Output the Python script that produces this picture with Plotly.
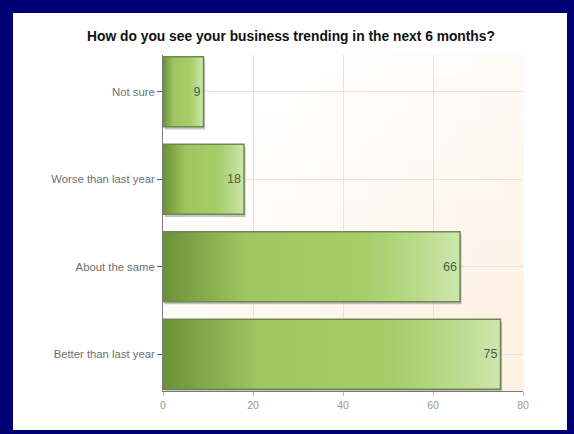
import plotly.graph_objects as go

categories = ["Not sure", "Worse than last year", "About the same", "Better than last year"]
values = [9, 18, 66, 75]
x_ticks = [0, 20, 40, 60, 80]

FONT = "Liberation Sans, Arial, sans-serif"

def lerp(c1, c2, t):
    return tuple(int(round(a + (b - a) * t)) for a, b in zip(c1, c2))

def hexrgb(h):
    h = h.lstrip('#')
    return tuple(int(h[i:i + 2], 16) for i in (0, 2, 4))

stops = [(0.0, hexrgb('#6b9139')), (0.28, hexrgb('#9ec661')), (0.68, hexrgb('#a5ce6a')),
         (0.85, hexrgb('#b8da8a')), (1.0, hexrgb('#cde6ad'))]

def grad(t):
    for (t0, c0), (t1, c1) in zip(stops[:-1], stops[1:]):
        if t0 <= t <= t1:
            return 'rgb(%d,%d,%d)' % lerp(c0, c1, (t - t0) / (t1 - t0))
    return 'rgb(%d,%d,%d)' % stops[-1][1]

fig = go.Figure()

# shadow
fig.add_trace(go.Bar(
    y=categories, x=values, base=[0.35] * len(values), orientation='h',
    width=0.8, offset=-0.37,
    marker=dict(color='rgba(90,90,90,0.35)', line=dict(width=0)),
    hoverinfo='skip', showlegend=False))

N = 120
for i in range(N):
    frac = min(4.0 / N, (N - i) / N)
    fig.add_trace(go.Bar(
        y=categories, x=[v * frac for v in values],
        base=[v * i / N for v in values], orientation='h', width=0.8,
        marker=dict(color=grad((i + 0.5) / N), line=dict(width=0)),
        hoverinfo='skip', showlegend=False))

# outline + labels
fig.add_trace(go.Bar(
    y=categories, x=values, orientation='h', width=0.8,
    marker=dict(color='rgba(0,0,0,0)', line=dict(color='#6f8750', width=1.5)),
    text=[str(v) for v in values], textposition='inside', insidetextanchor='end',
    textfont=dict(family=FONT, size=12.5, color='#4f5c45'),
    showlegend=False))

shapes = [dict(type='rect', xref='paper', yref='paper',
               x0=(13 - 163) / 360, x1=(567 - 163) / 360, y0=(391 - 430) / 336, y1=(391 - 13) / 336,
               fillcolor='white', line=dict(width=0), layer='below')]
# soft cream background gradient in plot area
G = 16
for i in range(G):
    for j in range(G):
        xf = (i + 0.5) / G
        yf = (j + 0.5) / G
        f = max(0.0, min(1.0, xf * 0.7 + (1 - yf) * 0.9 - 0.35))
        c = lerp((255, 255, 255), (253, 242, 228), f)
        shapes.append(dict(type='rect', xref='x domain', yref='y domain',
                           x0=i / G, x1=(i + 1) / G + 0.002, y0=j / G, y1=(j + 1) / G + 0.002,
                           fillcolor='rgb(%d,%d,%d)' % c, line=dict(width=0), layer='below'))

fig.update_layout(
    width=574, height=434,
    margin=dict(l=163, r=51, t=55, b=43),
    paper_bgcolor='#000075',
    plot_bgcolor='rgba(0,0,0,0)',
    barmode='overlay',
    shapes=shapes,
    title=dict(text='<b>How do you see your business trending in the next 6 months?</b>',
               x=291 / 574, xanchor='center', y=1 - 36 / 434, yanchor='middle',
               font=dict(family=FONT, size=13.8, color='#111111')),
    xaxis=dict(range=[0, 80], tickvals=x_ticks, ticktext=[str(t) for t in x_ticks],
               showgrid=True, gridcolor='#e4e4e4', gridwidth=1,
               showline=True, linecolor='#7a7a7a', linewidth=1,
               ticks='outside', ticklen=4, tickcolor='#bbbbbb',
               tickfont=dict(family=FONT, size=10.5, color='#999999'),
               zeroline=False, fixedrange=True),
    yaxis=dict(range=[3.42, -0.42], showgrid=True, gridcolor='#e4e4e4',
               showline=True, linecolor='#7a7a7a', linewidth=1,
               ticks='outside', ticklen=5, tickcolor='#666666',
               tickfont=dict(family=FONT, size=11.3, color='#707070'),
               fixedrange=True),
    font=dict(family=FONT),
)

fig.write_html("out.html", config=dict(displayModeBar=False),
               post_script="document.body.style.margin='0';document.body.style.background='#000075';document.body.style.overflow='hidden';")
